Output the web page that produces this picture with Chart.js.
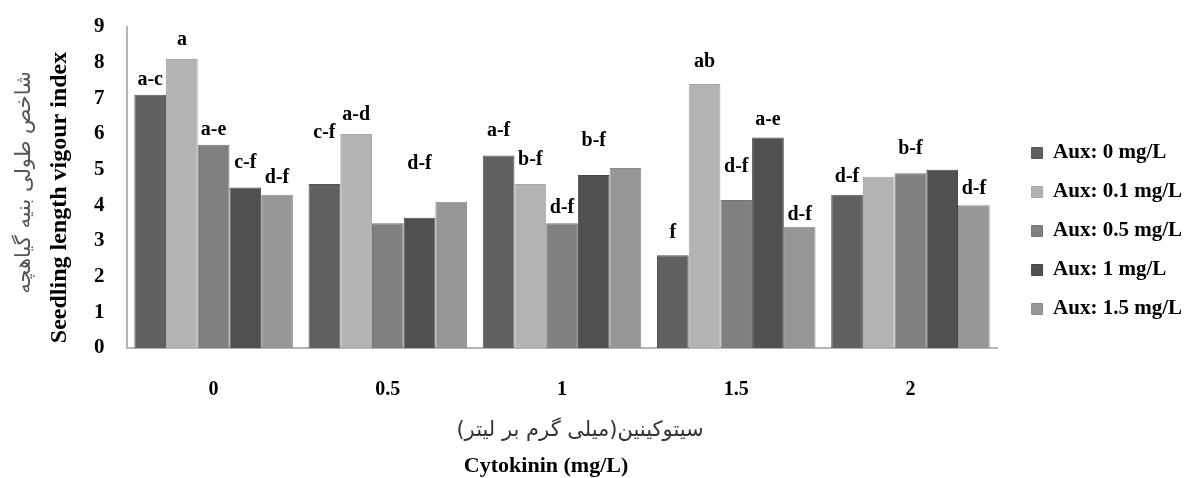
<!DOCTYPE html>
<html>
<head>
<meta charset="utf-8">
<script src="https://cdn.jsdelivr.net/npm/chart.js@4"></script>
<style>
  html, body { margin: 0; padding: 0; background: #fff; }
  #wrap { width: 1194px; height: 478px; position: relative; }
</style>
</head>
<body>
<div id="wrap"><canvas id="graphique"></canvas></div>
<script>
// données
const cytokinine = ['0', '0.5', '1', '1.5', '2'];
const nomsAuxine = ['Aux: 0 mg/L', 'Aux: 0.1 mg/L', 'Aux: 0.5 mg/L', 'Aux: 1 mg/L', 'Aux: 1.5 mg/L'];
const aux0 = [7.1, 4.6, 5.4, 2.6, 4.3];
const aux01 = [8.1, 6.0, 4.6, 7.4, 4.8];
const aux05 = [5.7, 3.5, 3.5, 4.15, 4.9];
const aux1 = [4.5, 3.65, 4.85, 5.9, 5.0];
const aux15 = [4.3, 4.1, 5.05, 3.4, 4.0];
// lettres de comparaison des moyennes (par série)
const lettres0 = ['a-c', 'c-f', 'a-f', 'f', 'd-f'];
const lettres01 = ['a', 'a-d', 'b-f', 'ab', ''];
const lettres05 = ['a-e', '', 'd-f', 'd-f', 'b-f'];
const lettres1 = ['c-f', 'd-f', 'b-f', 'a-e', ''];
const lettres15 = ['d-f', '', '', 'd-f', 'd-f'];
const yTicks = [0, 1, 2, 3, 4, 5, 6, 7, 8, 9];

const couleurs = ['#606060', '#b3b3b3', '#808080', '#505050', '#969696'];
const bordures = ['#565656', '#a6a6a6', '#767676', '#474747', '#8b8b8b'];
const series = [aux0, aux01, aux05, aux1, aux15];
const lettres = [lettres0, lettres01, lettres05, lettres1, lettres15];
// écart (px) entre le haut de la barre et la lettre, comme sur la figure
const ecarts = [
    [7, 43, 17, 14, 10],
    [11, 11, 16, 14, 0],
    [7, 0, 7, 25, 16],
    [17, 46, 26, 10, 0],
    [9, 0, 0, 4, 9]
];

const serif = '"Liberation Serif", "DejaVu Serif", serif';
const persan = '"DejaVu Sans", "Noto Sans", sans-serif';

// plugin pour les lettres au-dessus des barres
const pluginLettres = {
    id: 'lettres',
    afterDatasetsDraw(chart) {
        const ctx = chart.ctx;
        ctx.save();
        ctx.font = 'bold 20px ' + serif;
        ctx.fillStyle = '#000';
        ctx.textAlign = 'center';
        ctx.textBaseline = 'bottom';
        chart.data.datasets.forEach((ds, i) => {
            const meta = chart.getDatasetMeta(i);
            meta.data.forEach((bar, j) => {
                const txt = lettres[i][j];
                if (txt) ctx.fillText(txt, bar.x, bar.y - ecarts[i][j] + 2);
            });
        });
        ctx.restore();
    }
};

// décaler la légende vers la droite sans toucher la zone du graphique
const pluginLegende = {
    id: 'decalLegende',
    beforeDraw(chart) {
        if (chart.legend && !chart.legend._decale) {
            chart.legend.left += 16;
            chart.legend.right += 16;
            chart.legend._decale = true;
        }
    }
};

// plugin pour les titres des axes (persan + anglais)
const pluginTitres = {
    id: 'titres',
    afterDraw(chart) {
        const ctx = chart.ctx;
        const area = chart.chartArea;
        ctx.save();
        ctx.textAlign = 'center';
        ctx.textBaseline = 'middle';
        // titre axe x
        const cx = (area.left + area.right) / 2;
        ctx.font = '21px ' + persan;
        ctx.fillStyle = '#333';
        ctx.fillText('سیتوکینین(میلی گرم بر لیتر)', cx + 18, 431);
        ctx.fillStyle = '#000';
        ctx.font = 'bold 22px ' + serif;
        ctx.fillText('Cytokinin (mg/L)', cx - 16, 466);
        // titre axe y
        const cy = (area.top + area.bottom) / 2;
        ctx.translate(0, cy);
        ctx.rotate(-Math.PI / 2);
        ctx.font = '21px ' + persan;
        ctx.fillStyle = '#555';
        ctx.fillText('شاخص طولی بنیه گیاهچه', 5, 25);
        ctx.fillStyle = '#000';
        ctx.font = 'bold 24px ' + serif;
        ctx.fillText('Seedling length vigour index', -10, 60);
        ctx.restore();
    }
};

const datasets = series.map((vals, i) => ({
    label: nomsAuxine[i],
    data: vals,
    backgroundColor: couleurs[i],
    borderColor: bordures[i],
    borderWidth: 1,
    categoryPercentage: 0.91,
    barPercentage: 1.0
}));

new Chart(document.getElementById('graphique'), {
    type: 'bar',
    data: { labels: cytokinine, datasets: datasets },
    plugins: [pluginLettres, pluginLegende, pluginTitres],
    options: {
        responsive: true,
        maintainAspectRatio: false,
        animation: false,
        layout: { padding: { left: 72, top: 6, right: 18, bottom: 22 } },
        plugins: {
            tooltip: { enabled: false },
            legend: {
                position: 'right',
                labels: {
                    font: { family: serif, size: 21, weight: 'bold' },
                    color: '#000',
                    boxWidth: 11,
                    boxHeight: 11,
                    padding: 18
                }
            }
        },
        scales: {
            x: {
                grid: { display: false, drawTicks: false },
                border: { color: '#b5b5b5', width: 2 },
                ticks: {
                    font: { family: serif, size: 20, weight: 'bold' },
                    color: '#000',
                    padding: 30
                },
                afterFit: (scale) => { scale.height = 108; }
            },
            y: {
                min: 0,
                max: 9,
                afterBuildTicks: (axis) => { axis.ticks = yTicks.map(v => ({ value: v })); },
                // haut de l'axe à la hauteur du « 9 » de la figure
                afterFit: (scale) => { scale.paddingTop = 27; },
                grid: { display: false, drawTicks: false },
                border: { color: '#b5b5b5', width: 2 },
                ticks: {
                    font: { family: serif, size: 21, weight: 'bold' },
                    color: '#000',
                    padding: 22
                }
            }
        }
    }
});
</script>
</body>
</html>
